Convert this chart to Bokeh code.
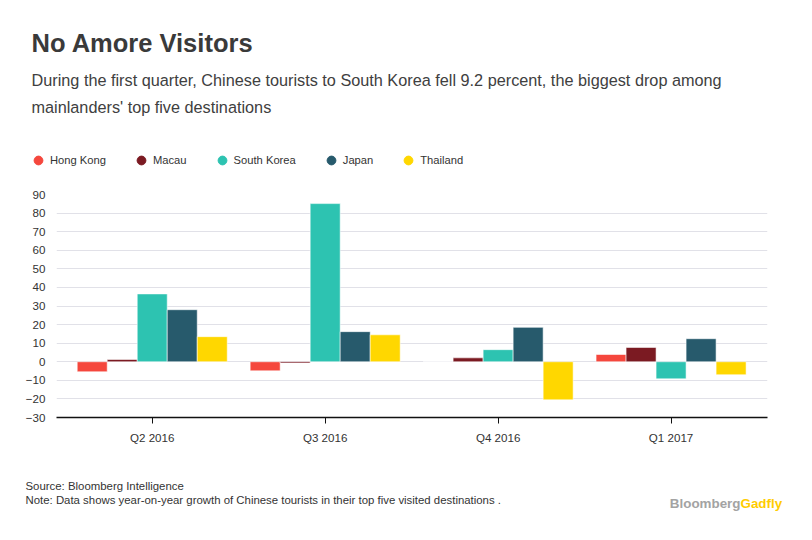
from bokeh.plotting import figure
from bokeh.layouts import column
from bokeh.models import (ColumnDataSource, Range1d, FixedTicker, Label, Legend, LegendItem)
from bokeh.transform import dodge
from bokeh.embed import file_html
from bokeh.resources import INLINE

# ---- data ----
quarters = ["Q2 2016", "Q3 2016", "Q4 2016", "Q1 2017"]
series_names = ["Hong Kong", "Macau", "South Korea", "Japan", "Thailand"]
hong_kong = [-5.4, -4.9, 0.0, 3.9]
macau = [1.2, -0.7, 2.1, 7.7]
south_korea = [36.5, 85.1, 6.5, -9.2]
japan = [28.0, 16.2, 18.5, 12.4]
thailand = [13.5, 14.5, -20.5, -7.0]
y_ticks = [-30, -20, -10, 0, 10, 20, 30, 40, 50, 60, 70, 80, 90]

colors = ["#F5473D", "#7B1A22", "#2DC3B1", "#275A6C", "#FFD700"]
FONT = "Liberation Sans"
W = 796

source = ColumnDataSource(dict(
    x=list(range(len(quarters))),
    hong_kong=hong_kong, macau=macau, south_korea=south_korea,
    japan=japan, thailand=thailand,
))
cols = ["hong_kong", "macau", "south_korea", "japan", "thailand"]


def blank_fig(h):
    f = figure(width=W, height=h, output_backend="svg", toolbar_location=None,
               x_range=Range1d(0, W), y_range=Range1d(h, 0),
               x_axis_type=None, y_axis_type=None,
               min_border=0, min_border_left=0, min_border_right=0,
               min_border_top=0, min_border_bottom=0)
    f.frame_align = False
    f.outline_line_color = None
    f.background_fill_color = "white"
    f.border_fill_color = "white"
    return f


def add_label(f, x, y, text, size, color="#333333", style="normal", align="left", font=FONT):
    f.add_layout(Label(x=x, y=y, text=text,
                       text_font=font, text_font_size=size, text_color=color,
                       text_font_style=style, text_align=align,
                       text_baseline="middle"))


# ---- header ----
HEAD_H = 184
head = blank_fig(HEAD_H)
add_label(head, 31, 42, "No Amore Visitors", "25.5px", color="#3A3A3A", style="bold")
add_label(head, 31, 79, "During the first quarter, Chinese tourists to South Korea fell 9.2 percent, the biggest drop among",
          "16.25px", color="#404040")
add_label(head, 31, 106, "mainlanders' top five destinations", "16.25px", color="#404040")

items = []
for name, c, col in zip(series_names, colors, cols):
    r = head.scatter(x="x", y=col, source=source, marker="circle",
                     fill_color=c, line_color=c, visible=False)
    items.append(LegendItem(label=name, renderers=[r]))
legend = Legend(items=items, orientation="horizontal", location=(27, 13),
                padding=0, margin=0, spacing=24, label_standoff=1,
                glyph_width=22, glyph_height=22, label_height=22,
                label_text_font=FONT, label_text_font_size="11.2px",
                label_text_color="#333333", border_line_color=None,
                background_fill_alpha=0, inactive_fill_alpha=0)
head.add_layout(legend)

# ---- main chart ----
p = figure(width=W, height=266, output_backend="svg", toolbar_location=None,
           x_range=Range1d(-0.5535, 3.5575), y_range=Range1d(-30, 90),
           min_border_left=56, min_border_right=29, min_border_top=10,
           min_border_bottom=33)
p.frame_align = False
p.outline_line_color = None
p.background_fill_color = "white"
p.border_fill_color = "white"

step = 0.1735
for i, (c, col) in enumerate(zip(colors, cols)):
    p.vbar(x=dodge("x", (i - 2) * step), top=col, width=step, source=source,
           fill_color=c, line_color="white", line_alpha=0.55, line_width=1)

p.xaxis.ticker = FixedTicker(ticks=list(range(len(quarters))))
p.xaxis.major_label_overrides = {i: q for i, q in enumerate(quarters)}
p.xaxis.axis_line_color = "#111111"
p.xaxis.axis_line_width = 1.3
p.xaxis.major_tick_line_color = "#111111"
p.xaxis.major_tick_out = 6
p.xaxis.major_tick_in = 0
p.xaxis.minor_tick_line_color = None
p.xaxis.major_label_standoff = 7
p.xaxis.major_label_text_font = FONT
p.xaxis.major_label_text_font_size = "11.6px"
p.xaxis.major_label_text_color = "#333333"

p.yaxis.ticker = FixedTicker(ticks=y_ticks)
p.yaxis.axis_line_color = None
p.yaxis.major_tick_line_color = None
p.yaxis.minor_tick_line_color = None
p.yaxis.major_tick_out = 0
p.yaxis.major_tick_in = 0
p.yaxis.major_label_standoff = 11
p.yaxis.major_label_text_font = FONT
p.yaxis.major_label_text_font_size = "11.6px"
p.yaxis.major_label_text_color = "#333333"

p.xgrid.grid_line_color = None
p.ygrid.grid_line_color = "#E1E1E8"
p.ygrid.grid_line_width = 1

# ---- footer ----
foot = blank_fig(74)
add_label(foot, 25, 35, "Source: Bloomberg Intelligence", "11.4px", color="#333333")
add_label(foot, 25, 49, "Note: Data shows year-on-year growth of Chinese tourists in their top five visited destinations .",
          "11.4px", color="#333333")
add_label(foot, 740, 53, "Bloomberg", "13.4px", color="#A3A3A3", style="bold", align="right")
add_label(foot, 740, 53, "Gadfly", "13.4px", color="#FFCC00", style="bold", align="left")

layout = column(head, p, foot, spacing=0)
open("out.html", "w").write(file_html(layout, INLINE))
